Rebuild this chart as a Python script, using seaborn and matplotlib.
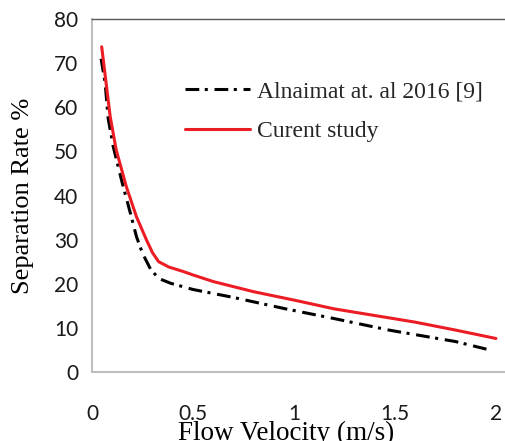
import numpy as np
import pandas as pd
import matplotlib
matplotlib.use("Agg")
import matplotlib.pyplot as plt
import seaborn as sns

# Data
velocity_ref = [0.045, 0.065, 0.08, 0.105, 0.15, 0.19, 0.22, 0.25, 0.29, 0.33,
                0.39, 0.5, 0.7, 0.96, 1.2, 1.47, 1.66, 1.8, 1.96]
rate_ref = [71.0, 65.5, 57.5, 51.1, 42.8, 36.0, 30.7, 26.9, 23.3, 21.2,
            20.1, 18.7, 16.9, 14.3, 12.1, 9.5, 8.0, 6.9, 5.1]
velocity_cur = [0.048, 0.09, 0.12, 0.17, 0.22, 0.27, 0.3, 0.33, 0.38, 0.45,
                0.5, 0.6, 0.8, 1.0, 1.2, 1.4, 1.6, 1.8, 2.0]
rate_cur = [73.7, 57.9, 50.3, 42.0, 35.2, 29.9, 27.0, 25.0, 23.8, 22.8,
            22.0, 20.5, 18.2, 16.3, 14.3, 12.8, 11.3, 9.5, 7.6]
label_ref = "Alnaimat at. al 2016 [9]"
label_cur = "Curent study"
xticks = [0, 0.5, 1, 1.5, 2]
xticklabels = ["0", "0.5", "1", "1.5", "2"]
yticks = [0, 10, 20, 30, 40, 50, 60, 70, 80]

sns.set_theme(style="white")
plt.rcParams["font.family"] = ["Lato", "DejaVu Sans"]

fig = plt.figure(figsize=(5.05, 4.41), dpi=100)
ax = fig.add_axes([92 / 505, 1 - 372 / 441, 413 / 505, 353 / 441])

df_ref = pd.DataFrame({"v": velocity_ref, "r": rate_ref})
df_cur = pd.DataFrame({"v": velocity_cur, "r": rate_cur})

sns.lineplot(data=df_ref, x="v", y="r", ax=ax, color="black", lw=2.2,
             label=label_ref, sort=False)
ax.lines[-1].set_dashes((4.5, 1.8, 1.0, 2.2))
sns.lineplot(data=df_cur, x="v", y="r", ax=ax, color="#ec1c24", lw=2.2,
             label=label_cur, sort=False)
for ln in ax.lines:
    ln.set_solid_joinstyle("round")
    ln.set_dash_joinstyle("round")

ax.set_xlim(0, 2.045)
ax.set_ylim(0, 80)
ax.set_xticks(xticks)
ax.set_xticklabels(xticklabels)
ax.set_yticks(yticks)
ax.tick_params(axis="both", labelsize=15, colors="#1a1a1a", length=5,
               width=1.3, direction="out")
ax.tick_params(axis="x", pad=18, color="#bfbfbf")
ax.tick_params(axis="y", pad=5, color="#bfbfbf")
ax.grid(False)

for s in ["left", "bottom"]:
    ax.spines[s].set_color("#bfbfbf")
    ax.spines[s].set_linewidth(1.5)
ax.spines["top"].set_color("#595959")
ax.spines["top"].set_linewidth(1.0)
ax.spines["right"].set_visible(False)

serif = ["Liberation Serif", "DejaVu Serif"]
ax.set_xlabel("Flow Velocity (m/s)", fontsize=19.5, family=serif, color="black")
ax.set_ylabel("Separation Rate %", fontsize=19, family=serif, color="black")
ax.xaxis.set_label_coords(0.470, -0.139)
ax.yaxis.set_label_coords(-0.14, 0.5)

leg = ax.legend(loc="upper left", bbox_to_anchor=(0.225, 0.825), frameon=False,
                borderpad=0, borderaxespad=0, handlelength=2.75,
                handletextpad=0.3, labelspacing=0.76,
                prop={"family": serif, "size": 17})

fig.savefig("out.png", dpi=100)
